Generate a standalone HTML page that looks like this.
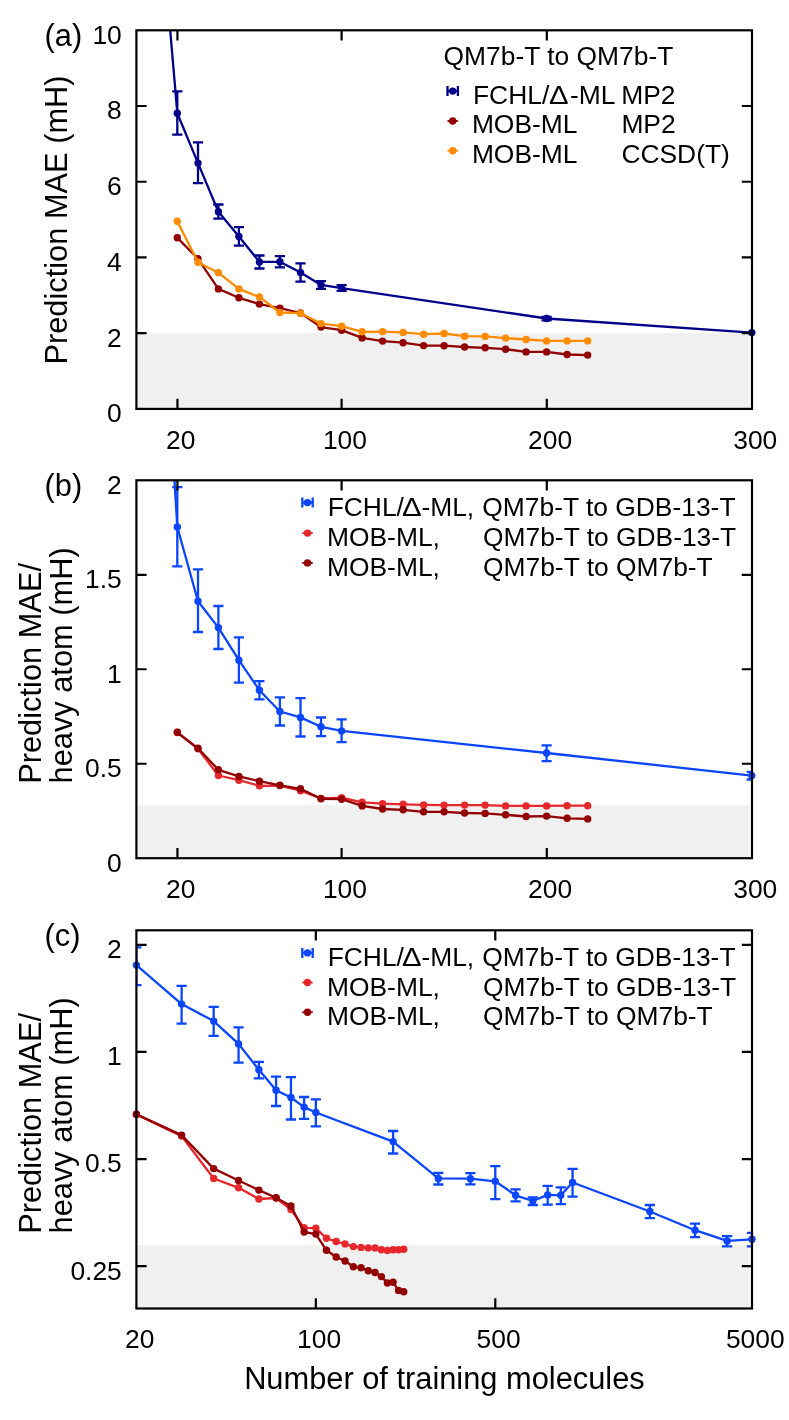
<!DOCTYPE html>
<html><head><meta charset="utf-8"><title>Learning curves</title>
<style>html,body{margin:0;padding:0;background:#fff}svg{display:block}text{font-family:"Liberation Sans",sans-serif}</style></head>
<body>
<svg width="789" height="1420" viewBox="0 0 789 1420" font-family="'Liberation Sans', sans-serif" fill="#000" style="will-change:transform">
<defs>
<clipPath id="clipa"><rect x="136.4" y="30.3" width="615.6" height="378.6"/></clipPath>
<clipPath id="clipb"><rect x="136.4" y="480.3" width="615.6" height="377.9"/></clipPath>
<clipPath id="clipc"><rect x="136.4" y="930.3" width="615.6" height="378.2"/></clipPath>
</defs>
<rect width="789" height="1420" fill="#fff"/>
<rect x="136.4" y="333.18" width="612.9" height="75.72" fill="#f0f0f0"/>
<rect x="136.4" y="805.1" width="612.9" height="53.1" fill="#f0f0f0"/>
<rect x="136.4" y="1245.2" width="612.9" height="63.3" fill="#f0f0f0"/>
<g clip-path="url(#clipa)" stroke="#00008b" stroke-width="2.3" fill="none">
<polyline points="157.3,-121 177.3,113.2 198,163.1 218.4,211.7 238.9,236.4 259.4,261.9 279.9,261.8 300.5,272.6 321,284.9 341.6,288.1 546.6,318.5 751.8,332.6" stroke-linejoin="round"/>
<path d="M177.3 91.4V134.6M172.2 91.4h10.2M172.2 134.6h10.2M198 142.4V183.2M192.9 142.4h10.2M192.9 183.2h10.2M218.4 204.5V218.6M213.3 204.5h10.2M213.3 218.6h10.2M238.9 227.1V245.7M233.8 227.1h10.2M233.8 245.7h10.2M259.4 255.5V268.5M254.3 255.5h10.2M254.3 268.5h10.2M279.9 256.2V267.3M274.8 256.2h10.2M274.8 267.3h10.2M300.5 263.3V281.7M295.4 263.3h10.2M295.4 281.7h10.2M321 281.1V288.8M315.9 281.1h10.2M315.9 288.8h10.2M341.6 285.1V290.9M336.5 285.1h10.2M336.5 290.9h10.2M546.6 316.8V320.3M541.5 316.8h10.2M541.5 320.3h10.2"/>
</g>
<g fill="#00008b">
<circle cx="177.3" cy="113.2" r="3.7"/>
<circle cx="198" cy="163.1" r="3.7"/>
<circle cx="218.4" cy="211.7" r="3.7"/>
<circle cx="238.9" cy="236.4" r="3.7"/>
<circle cx="259.4" cy="261.9" r="3.7"/>
<circle cx="279.9" cy="261.8" r="3.7"/>
<circle cx="300.5" cy="272.6" r="3.7"/>
<circle cx="321" cy="284.9" r="3.7"/>
<circle cx="341.6" cy="288.1" r="3.7"/>
<circle cx="546.6" cy="318.5" r="3.7"/>
<circle cx="751.8" cy="332.6" r="3.7"/>
</g>
<g clip-path="url(#clipa)" stroke="#920000" stroke-width="2.3" fill="none">
<polyline points="177.3,237.7 198,258.8 218.4,288.9 238.9,297.8 259.4,304.1 279.9,308.2 300.5,313 321,327.1 341.6,330.2 362.1,337.9 382.6,341.1 403.1,342.7 423.6,345.6 444.1,345.7 464.6,347 485.1,347.8 505.6,349.2 526.1,351.9 546.6,351.9 567.1,354.5 587.7,355.1" stroke-linejoin="round"/>
</g>
<g fill="#920000">
<circle cx="177.3" cy="237.7" r="3.7"/>
<circle cx="198" cy="258.8" r="3.7"/>
<circle cx="218.4" cy="288.9" r="3.7"/>
<circle cx="238.9" cy="297.8" r="3.7"/>
<circle cx="259.4" cy="304.1" r="3.7"/>
<circle cx="279.9" cy="308.2" r="3.7"/>
<circle cx="300.5" cy="313" r="3.7"/>
<circle cx="321" cy="327.1" r="3.7"/>
<circle cx="341.6" cy="330.2" r="3.7"/>
<circle cx="362.1" cy="337.9" r="3.7"/>
<circle cx="382.6" cy="341.1" r="3.7"/>
<circle cx="403.1" cy="342.7" r="3.7"/>
<circle cx="423.6" cy="345.6" r="3.7"/>
<circle cx="444.1" cy="345.7" r="3.7"/>
<circle cx="464.6" cy="347" r="3.7"/>
<circle cx="485.1" cy="347.8" r="3.7"/>
<circle cx="505.6" cy="349.2" r="3.7"/>
<circle cx="526.1" cy="351.9" r="3.7"/>
<circle cx="546.6" cy="351.9" r="3.7"/>
<circle cx="567.1" cy="354.5" r="3.7"/>
<circle cx="587.7" cy="355.1" r="3.7"/>
</g>
<g clip-path="url(#clipa)" stroke="#ff8c00" stroke-width="2.3" fill="none">
<polyline points="177.3,221.3 198,262.3 218.4,272.7 238.9,288.9 259.4,297 279.9,312.5 300.5,313.2 321,323.6 341.6,326.2 362.1,331.8 382.6,331.6 403.1,332.4 423.6,334.2 444.1,333.5 464.6,336.2 485.1,336.4 505.6,338.1 526.1,339.5 546.6,340.9 567.1,340.9 587.7,340.9" stroke-linejoin="round"/>
</g>
<g fill="#ff8c00">
<circle cx="177.3" cy="221.3" r="3.7"/>
<circle cx="198" cy="262.3" r="3.7"/>
<circle cx="218.4" cy="272.7" r="3.7"/>
<circle cx="238.9" cy="288.9" r="3.7"/>
<circle cx="259.4" cy="297" r="3.7"/>
<circle cx="279.9" cy="312.5" r="3.7"/>
<circle cx="300.5" cy="313.2" r="3.7"/>
<circle cx="321" cy="323.6" r="3.7"/>
<circle cx="341.6" cy="326.2" r="3.7"/>
<circle cx="362.1" cy="331.8" r="3.7"/>
<circle cx="382.6" cy="331.6" r="3.7"/>
<circle cx="403.1" cy="332.4" r="3.7"/>
<circle cx="423.6" cy="334.2" r="3.7"/>
<circle cx="444.1" cy="333.5" r="3.7"/>
<circle cx="464.6" cy="336.2" r="3.7"/>
<circle cx="485.1" cy="336.4" r="3.7"/>
<circle cx="505.6" cy="338.1" r="3.7"/>
<circle cx="526.1" cy="339.5" r="3.7"/>
<circle cx="546.6" cy="340.9" r="3.7"/>
<circle cx="567.1" cy="340.9" r="3.7"/>
<circle cx="587.7" cy="340.9" r="3.7"/>
</g>
<g clip-path="url(#clipb)" stroke="#0a46ff" stroke-width="2.3" fill="none">
<polyline points="157.3,194 177.3,527 198,601.2 218.4,627.6 238.9,660.2 259.4,690.2 279.9,711.5 300.5,717.4 321,726.8 341.6,730.9 546.6,753 751.8,775.6" stroke-linejoin="round"/>
<path d="M177.3 487.2V566.3M172.2 487.2h10.2M172.2 566.3h10.2M198 569.4V632M192.9 569.4h10.2M192.9 632h10.2M218.4 606V649M213.3 606h10.2M213.3 649h10.2M238.9 637.4V682.6M233.8 637.4h10.2M233.8 682.6h10.2M259.4 681.1V699.4M254.3 681.1h10.2M254.3 699.4h10.2M279.9 697.3V725.5M274.8 697.3h10.2M274.8 725.5h10.2M300.5 698.1V736.5M295.4 698.1h10.2M295.4 736.5h10.2M321 717.5V736.2M315.9 717.5h10.2M315.9 736.2h10.2M341.6 719.4V742.1M336.5 719.4h10.2M336.5 742.1h10.2M546.6 745.4V761.1M541.5 745.4h10.2M541.5 761.1h10.2M751.8 771.9V779.5M746.7 771.9h10.2M746.7 779.5h10.2"/>
</g>
<g fill="#0a46ff">
<circle cx="177.3" cy="527" r="3.7"/>
<circle cx="198" cy="601.2" r="3.7"/>
<circle cx="218.4" cy="627.6" r="3.7"/>
<circle cx="238.9" cy="660.2" r="3.7"/>
<circle cx="259.4" cy="690.2" r="3.7"/>
<circle cx="279.9" cy="711.5" r="3.7"/>
<circle cx="300.5" cy="717.4" r="3.7"/>
<circle cx="321" cy="726.8" r="3.7"/>
<circle cx="341.6" cy="730.9" r="3.7"/>
<circle cx="546.6" cy="753" r="3.7"/>
<circle cx="751.8" cy="775.6" r="3.7"/>
</g>
<g clip-path="url(#clipb)" stroke="#e6282c" stroke-width="2.3" fill="none">
<polyline points="177.3,732.5 198,748.8 218.4,775.5 238.9,780.2 259.4,785.8 279.9,785.6 300.5,790.7 321,798.4 341.6,797.6 362.1,802.3 382.6,803.7 403.1,804.3 423.6,804.9 444.1,805.1 464.6,805.1 485.1,805.1 505.6,805.9 526.1,805.9 546.6,805.9 567.1,805.7 587.7,805.7" stroke-linejoin="round"/>
</g>
<g fill="#e6282c">
<circle cx="177.3" cy="732.5" r="3.7"/>
<circle cx="198" cy="748.8" r="3.7"/>
<circle cx="218.4" cy="775.5" r="3.7"/>
<circle cx="238.9" cy="780.2" r="3.7"/>
<circle cx="259.4" cy="785.8" r="3.7"/>
<circle cx="279.9" cy="785.6" r="3.7"/>
<circle cx="300.5" cy="790.7" r="3.7"/>
<circle cx="321" cy="798.4" r="3.7"/>
<circle cx="341.6" cy="797.6" r="3.7"/>
<circle cx="362.1" cy="802.3" r="3.7"/>
<circle cx="382.6" cy="803.7" r="3.7"/>
<circle cx="403.1" cy="804.3" r="3.7"/>
<circle cx="423.6" cy="804.9" r="3.7"/>
<circle cx="444.1" cy="805.1" r="3.7"/>
<circle cx="464.6" cy="805.1" r="3.7"/>
<circle cx="485.1" cy="805.1" r="3.7"/>
<circle cx="505.6" cy="805.9" r="3.7"/>
<circle cx="526.1" cy="805.9" r="3.7"/>
<circle cx="546.6" cy="805.9" r="3.7"/>
<circle cx="567.1" cy="805.7" r="3.7"/>
<circle cx="587.7" cy="805.7" r="3.7"/>
</g>
<g clip-path="url(#clipb)" stroke="#920000" stroke-width="2.3" fill="none">
<polyline points="177.3,732.3 198,748.3 218.4,769.8 238.9,776.4 259.4,781.2 279.9,785.3 300.5,788.8 321,798.8 341.6,799.2 362.1,805.9 382.6,809 403.1,809.8 423.6,811.8 444.1,811.8 464.6,813 485.1,813.4 505.6,814.8 526.1,816.5 546.6,816.1 567.1,818.3 587.7,818.9" stroke-linejoin="round"/>
</g>
<g fill="#920000">
<circle cx="177.3" cy="732.3" r="3.7"/>
<circle cx="198" cy="748.3" r="3.7"/>
<circle cx="218.4" cy="769.8" r="3.7"/>
<circle cx="238.9" cy="776.4" r="3.7"/>
<circle cx="259.4" cy="781.2" r="3.7"/>
<circle cx="279.9" cy="785.3" r="3.7"/>
<circle cx="300.5" cy="788.8" r="3.7"/>
<circle cx="321" cy="798.8" r="3.7"/>
<circle cx="341.6" cy="799.2" r="3.7"/>
<circle cx="362.1" cy="805.9" r="3.7"/>
<circle cx="382.6" cy="809" r="3.7"/>
<circle cx="403.1" cy="809.8" r="3.7"/>
<circle cx="423.6" cy="811.8" r="3.7"/>
<circle cx="444.1" cy="811.8" r="3.7"/>
<circle cx="464.6" cy="813" r="3.7"/>
<circle cx="485.1" cy="813.4" r="3.7"/>
<circle cx="505.6" cy="814.8" r="3.7"/>
<circle cx="526.1" cy="816.5" r="3.7"/>
<circle cx="546.6" cy="816.1" r="3.7"/>
<circle cx="567.1" cy="818.3" r="3.7"/>
<circle cx="587.7" cy="818.9" r="3.7"/>
</g>
<g clip-path="url(#clipc)" stroke="#0a46ff" stroke-width="2.3" fill="none">
<polyline points="136.4,965.1 181.61,1004.1 213.68,1021.1 238.56,1043.9 258.89,1069.7 276.07,1090.3 290.96,1097.5 304.09,1107.1 315.84,1112.5 393.12,1141.6 438.33,1178.4 470.4,1178.7 495.28,1181.3 515.61,1195.3 532.79,1201 547.68,1194.9 560.81,1195.3 572.56,1182.5 649.84,1211.5 695.05,1230.2 727.12,1240.9 752,1239.3" stroke-linejoin="round"/>
<path d="M136.4 947.3V985.1M131.3 947.3h10.2M131.3 985.1h10.2M181.61 985.8V1023.6M176.51 985.8h10.2M176.51 1023.6h10.2M213.68 1006.9V1035.8M208.58 1006.9h10.2M208.58 1035.8h10.2M238.56 1027.4V1062.6M233.46 1027.4h10.2M233.46 1062.6h10.2M258.89 1061.9V1078.4M253.79 1061.9h10.2M253.79 1078.4h10.2M276.07 1076.6V1106M270.97 1076.6h10.2M270.97 1106h10.2M290.96 1077.2V1119.5M285.86 1077.2h10.2M285.86 1119.5h10.2M304.09 1097V1118.8M298.99 1097h10.2M298.99 1118.8h10.2M315.84 1099.3V1126.4M310.74 1099.3h10.2M310.74 1126.4h10.2M393.12 1131V1153.5M388.02 1131h10.2M388.02 1153.5h10.2M438.33 1172.8V1184.5M433.23 1172.8h10.2M433.23 1184.5h10.2M470.4 1173.1V1184.4M465.3 1173.1h10.2M465.3 1184.4h10.2M495.28 1166.1V1199.2M490.18 1166.1h10.2M490.18 1199.2h10.2M515.61 1189.4V1201.4M510.51 1189.4h10.2M510.51 1201.4h10.2M532.79 1197.3V1205M527.69 1197.3h10.2M527.69 1205h10.2M547.68 1185.8V1204.6M542.58 1185.8h10.2M542.58 1204.6h10.2M560.81 1187.4V1204.2M555.71 1187.4h10.2M555.71 1204.2h10.2M572.56 1168.9V1196.7M567.46 1168.9h10.2M567.46 1196.7h10.2M649.84 1205V1218.2M644.74 1205h10.2M644.74 1218.2h10.2M695.05 1223.7V1237.1M689.95 1223.7h10.2M689.95 1237.1h10.2M727.12 1236.1V1246.4M722.02 1236.1h10.2M722.02 1246.4h10.2M752 1232.8V1246.4M746.9 1232.8h10.2M746.9 1246.4h10.2"/>
</g>
<g fill="#0a46ff">
<circle cx="136.4" cy="965.1" r="3.7"/>
<circle cx="181.61" cy="1004.1" r="3.7"/>
<circle cx="213.68" cy="1021.1" r="3.7"/>
<circle cx="238.56" cy="1043.9" r="3.7"/>
<circle cx="258.89" cy="1069.7" r="3.7"/>
<circle cx="276.07" cy="1090.3" r="3.7"/>
<circle cx="290.96" cy="1097.5" r="3.7"/>
<circle cx="304.09" cy="1107.1" r="3.7"/>
<circle cx="315.84" cy="1112.5" r="3.7"/>
<circle cx="393.12" cy="1141.6" r="3.7"/>
<circle cx="438.33" cy="1178.4" r="3.7"/>
<circle cx="470.4" cy="1178.7" r="3.7"/>
<circle cx="495.28" cy="1181.3" r="3.7"/>
<circle cx="515.61" cy="1195.3" r="3.7"/>
<circle cx="532.79" cy="1201" r="3.7"/>
<circle cx="547.68" cy="1194.9" r="3.7"/>
<circle cx="560.81" cy="1195.3" r="3.7"/>
<circle cx="572.56" cy="1182.5" r="3.7"/>
<circle cx="649.84" cy="1211.5" r="3.7"/>
<circle cx="695.05" cy="1230.2" r="3.7"/>
<circle cx="727.12" cy="1240.9" r="3.7"/>
<circle cx="752" cy="1239.3" r="3.7"/>
</g>
<g clip-path="url(#clipc)" stroke="#e6282c" stroke-width="2.3" fill="none">
<polyline points="136.4,1114.5 181.61,1136.1 213.68,1178.5 238.56,1187.8 258.89,1199 276.07,1198 290.96,1209.6 304.09,1227.8 315.84,1228.1 326.47,1238.3 336.17,1241.5 345.09,1243.9 353.35,1246.6 361.05,1247.4 368.24,1247.9 375,1247.9 381.37,1249.7 387.4,1250.5 393.12,1249.8 398.56,1249.7 403.75,1249.3" stroke-linejoin="round"/>
</g>
<g fill="#e6282c">
<circle cx="136.4" cy="1114.5" r="3.7"/>
<circle cx="181.61" cy="1136.1" r="3.7"/>
<circle cx="213.68" cy="1178.5" r="3.7"/>
<circle cx="238.56" cy="1187.8" r="3.7"/>
<circle cx="258.89" cy="1199" r="3.7"/>
<circle cx="276.07" cy="1198" r="3.7"/>
<circle cx="290.96" cy="1209.6" r="3.7"/>
<circle cx="304.09" cy="1227.8" r="3.7"/>
<circle cx="315.84" cy="1228.1" r="3.7"/>
<circle cx="326.47" cy="1238.3" r="3.7"/>
<circle cx="336.17" cy="1241.5" r="3.7"/>
<circle cx="345.09" cy="1243.9" r="3.7"/>
<circle cx="353.35" cy="1246.6" r="3.7"/>
<circle cx="361.05" cy="1247.4" r="3.7"/>
<circle cx="368.24" cy="1247.9" r="3.7"/>
<circle cx="375" cy="1247.9" r="3.7"/>
<circle cx="381.37" cy="1249.7" r="3.7"/>
<circle cx="387.4" cy="1250.5" r="3.7"/>
<circle cx="393.12" cy="1249.8" r="3.7"/>
<circle cx="398.56" cy="1249.7" r="3.7"/>
<circle cx="403.75" cy="1249.3" r="3.7"/>
</g>
<g clip-path="url(#clipc)" stroke="#920000" stroke-width="2.3" fill="none">
<polyline points="136.4,1114.3 181.61,1135.1 213.68,1168.6 238.56,1180.5 258.89,1190.1 276.07,1197.7 290.96,1205.9 304.09,1232 315.84,1234.1 326.47,1250.3 336.17,1257 345.09,1261 353.35,1266.8 361.05,1267.7 368.24,1270.7 375,1272.5 381.37,1276.6 387.4,1283 393.12,1282.3 398.56,1290.4 403.75,1291.8" stroke-linejoin="round"/>
</g>
<g fill="#920000">
<circle cx="136.4" cy="1114.3" r="3.7"/>
<circle cx="181.61" cy="1135.1" r="3.7"/>
<circle cx="213.68" cy="1168.6" r="3.7"/>
<circle cx="238.56" cy="1180.5" r="3.7"/>
<circle cx="258.89" cy="1190.1" r="3.7"/>
<circle cx="276.07" cy="1197.7" r="3.7"/>
<circle cx="290.96" cy="1205.9" r="3.7"/>
<circle cx="304.09" cy="1232" r="3.7"/>
<circle cx="315.84" cy="1234.1" r="3.7"/>
<circle cx="326.47" cy="1250.3" r="3.7"/>
<circle cx="336.17" cy="1257" r="3.7"/>
<circle cx="345.09" cy="1261" r="3.7"/>
<circle cx="353.35" cy="1266.8" r="3.7"/>
<circle cx="361.05" cy="1267.7" r="3.7"/>
<circle cx="368.24" cy="1270.7" r="3.7"/>
<circle cx="375" cy="1272.5" r="3.7"/>
<circle cx="381.37" cy="1276.6" r="3.7"/>
<circle cx="387.4" cy="1283" r="3.7"/>
<circle cx="393.12" cy="1282.3" r="3.7"/>
<circle cx="398.56" cy="1290.4" r="3.7"/>
<circle cx="403.75" cy="1291.8" r="3.7"/>
</g>
<rect x="136.4" y="30.3" width="615.6" height="378.6" fill="none" stroke="#000" stroke-width="2.2"/>
<rect x="136.4" y="480.3" width="615.6" height="377.9" fill="none" stroke="#000" stroke-width="2.2"/>
<rect x="136.4" y="930.3" width="615.6" height="378.2" fill="none" stroke="#000" stroke-width="2.2"/>
<path d="M177.44 408.9V398.7M177.44 30.3V40.5M341.6 408.9V398.7M341.6 30.3V40.5M546.8 408.9V398.7M546.8 30.3V40.5" stroke="#000" stroke-width="2.2" fill="none"/>
<path d="M177.44 858.2V848M177.44 480.3V490.5M341.6 858.2V848M341.6 480.3V490.5M546.8 858.2V848M546.8 480.3V490.5" stroke="#000" stroke-width="2.2" fill="none"/>
<path d="M315.84 1308.5V1298.3M315.84 930.3V940.5M495.28 1308.5V1298.3M495.28 930.3V940.5" stroke="#000" stroke-width="2.2" fill="none"/>
<path d="M136.4 333.18H146.6M752 333.18H741.8M136.4 257.46H146.6M752 257.46H741.8M136.4 181.74H146.6M752 181.74H741.8M136.4 106.02H146.6M752 106.02H741.8" stroke="#000" stroke-width="2.2" fill="none"/>
<path d="M136.4 763.73H146.6M752 763.73H741.8M136.4 669.25H146.6M752 669.25H741.8M136.4 574.78H146.6M752 574.78H741.8" stroke="#000" stroke-width="2.2" fill="none"/>
<path d="M136.4 1266.1H146.6M752 1266.1H741.8M136.4 1159.03H146.6M752 1159.03H741.8M136.4 1051.97H146.6M752 1051.97H741.8M136.4 944.9H146.6M752 944.9H741.8" stroke="#000" stroke-width="2.2" fill="none"/>
<text x="121.8" y="422.3" font-size="26.4" text-anchor="end">0</text>
<text x="121.8" y="346.58" font-size="26.4" text-anchor="end">2</text>
<text x="121.8" y="270.86" font-size="26.4" text-anchor="end">4</text>
<text x="121.8" y="195.14" font-size="26.4" text-anchor="end">6</text>
<text x="121.8" y="119.42" font-size="26.4" text-anchor="end">8</text>
<text x="121.8" y="43.7" font-size="26.4" text-anchor="end">10</text>
<text x="121.8" y="871.6" font-size="26.4" text-anchor="end">0</text>
<text x="121.8" y="777.12" font-size="26.4" text-anchor="end">0.5</text>
<text x="121.8" y="682.65" font-size="26.4" text-anchor="end">1</text>
<text x="121.8" y="588.18" font-size="26.4" text-anchor="end">1.5</text>
<text x="121.8" y="493.7" font-size="26.4" text-anchor="end">2</text>
<text x="121.8" y="1279.5" font-size="26.4" text-anchor="end">0.25</text>
<text x="121.8" y="1172.43" font-size="26.4" text-anchor="end">0.5</text>
<text x="121.8" y="1065.37" font-size="26.4" text-anchor="end">1</text>
<text x="121.8" y="958.3" font-size="26.4" text-anchor="end">2</text>
<text x="180.74" y="448.6" font-size="26.4" text-anchor="middle">20</text>
<text x="344.9" y="448.6" font-size="26.4" text-anchor="middle">100</text>
<text x="550.1" y="448.6" font-size="26.4" text-anchor="middle">200</text>
<text x="755.3" y="448.6" font-size="26.4" text-anchor="middle">300</text>
<text x="180.74" y="897.9" font-size="26.4" text-anchor="middle">20</text>
<text x="344.9" y="897.9" font-size="26.4" text-anchor="middle">100</text>
<text x="550.1" y="897.9" font-size="26.4" text-anchor="middle">200</text>
<text x="755.3" y="897.9" font-size="26.4" text-anchor="middle">300</text>
<text x="139.7" y="1348.2" font-size="26.4" text-anchor="middle">20</text>
<text x="319.14" y="1348.2" font-size="26.4" text-anchor="middle">100</text>
<text x="498.58" y="1348.2" font-size="26.4" text-anchor="middle">500</text>
<text x="755.3" y="1348.2" font-size="26.4" text-anchor="middle">5000</text>
<text x="44.5" y="46.4" font-size="30.8" text-anchor="start">(a)</text>
<text x="44.5" y="496.4" font-size="30.8" text-anchor="start">(b)</text>
<text x="44.5" y="946.4" font-size="30.8" text-anchor="start">(c)</text>
<text transform="translate(67 220) rotate(-90)" font-size="30.8" text-anchor="middle">Prediction MAE (mH)</text>
<text transform="translate(40.6 783.8) rotate(-90)" font-size="30.8" text-anchor="start">Prediction MAE/</text>
<text transform="translate(71.8 783.5) rotate(-90)" font-size="30.8" text-anchor="start">heavy atom (mH)</text>
<text transform="translate(40.6 1233.8) rotate(-90)" font-size="30.8" text-anchor="start">Prediction MAE/</text>
<text transform="translate(71.8 1233.5) rotate(-90)" font-size="30.8" text-anchor="start">heavy atom (mH)</text>
<text x="444.4" y="1388.6" font-size="30.8" text-anchor="middle">Number of training molecules</text>
<text x="443.6" y="65.1" font-size="26.4" text-anchor="start">QM7b-T to QM7b-T</text>
<path d="M447.5 91.1H457.9M447.5 86.1v10M457.9 86.1v10" stroke="#00008b" stroke-width="2.3" fill="none"/>
<circle cx="452.7" cy="91.1" r="3.7" fill="#00008b"/>
<path d="M447.5 121H457.9" stroke="#920000" stroke-width="1.9" fill="none"/>
<circle cx="452.7" cy="121" r="3.7" fill="#920000"/>
<path d="M447.5 150.8H457.9" stroke="#ff8c00" stroke-width="1.9" fill="none"/>
<circle cx="452.7" cy="150.8" r="3.7" fill="#ff8c00"/>
<text x="473" y="103.6" font-size="26.4" text-anchor="start">FCHL/<tspan x="549.1" textLength="19.6" lengthAdjust="spacingAndGlyphs">Δ</tspan><tspan x="570">-ML</tspan></text>
<text x="621.2" y="103.6" font-size="26.4" text-anchor="start">MP2</text>
<text x="471.9" y="133.1" font-size="26.4" text-anchor="start">MOB-ML</text>
<text x="621.4" y="133.1" font-size="26.4" text-anchor="start">MP2</text>
<text x="471.9" y="163.4" font-size="26.4" text-anchor="start">MOB-ML</text>
<text x="621.4" y="163.4" font-size="26.4" text-anchor="start">CCSD(T)</text>
<path d="M302.3 502.6H312.7M302.3 497.6v10M312.7 497.6v10" stroke="#0a46ff" stroke-width="2.3" fill="none"/>
<circle cx="307.5" cy="502.6" r="3.7" fill="#0a46ff"/>
<path d="M302.3 533.1H312.7" stroke="#e6282c" stroke-width="1.9" fill="none"/>
<circle cx="307.5" cy="533.1" r="3.7" fill="#e6282c"/>
<path d="M302.3 562.9H312.7" stroke="#920000" stroke-width="1.9" fill="none"/>
<circle cx="307.5" cy="562.9" r="3.7" fill="#920000"/>
<text x="327.7" y="516.4" font-size="26.4" text-anchor="start">FCHL/<tspan x="402.1" textLength="19.6" lengthAdjust="spacingAndGlyphs">Δ</tspan><tspan x="421.4">-ML,</tspan></text>
<text x="327" y="546.3" font-size="26.4" text-anchor="start">MOB-ML,</text>
<text x="327" y="575.8" font-size="26.4" text-anchor="start">MOB-ML,</text>
<text x="482.3" y="516.4" font-size="26.4" text-anchor="start">QM7b-T to GDB-13-T</text>
<text x="483" y="546.3" font-size="26.4" text-anchor="start">QM7b-T to GDB-13-T</text>
<text x="483" y="575.8" font-size="26.4" text-anchor="start">QM7b-T to QM7b-T</text>
<path d="M302.3 952.9H312.7M302.3 947.9v10M312.7 947.9v10" stroke="#0a46ff" stroke-width="2.3" fill="none"/>
<circle cx="307.5" cy="952.9" r="3.7" fill="#0a46ff"/>
<path d="M302.3 982.5H312.7" stroke="#e6282c" stroke-width="1.9" fill="none"/>
<circle cx="307.5" cy="982.5" r="3.7" fill="#e6282c"/>
<path d="M302.3 1012.3H312.7" stroke="#920000" stroke-width="1.9" fill="none"/>
<circle cx="307.5" cy="1012.3" r="3.7" fill="#920000"/>
<text x="327.7" y="966.15" font-size="26.4" text-anchor="start">FCHL/<tspan x="402.1" textLength="19.6" lengthAdjust="spacingAndGlyphs">Δ</tspan><tspan x="421.4">-ML,</tspan></text>
<text x="327" y="995.7" font-size="26.4" text-anchor="start">MOB-ML,</text>
<text x="327" y="1024.9" font-size="26.4" text-anchor="start">MOB-ML,</text>
<text x="482.3" y="966.15" font-size="26.4" text-anchor="start">QM7b-T to GDB-13-T</text>
<text x="483" y="995.7" font-size="26.4" text-anchor="start">QM7b-T to GDB-13-T</text>
<text x="483" y="1024.9" font-size="26.4" text-anchor="start">QM7b-T to QM7b-T</text>
</svg>
</body></html>
